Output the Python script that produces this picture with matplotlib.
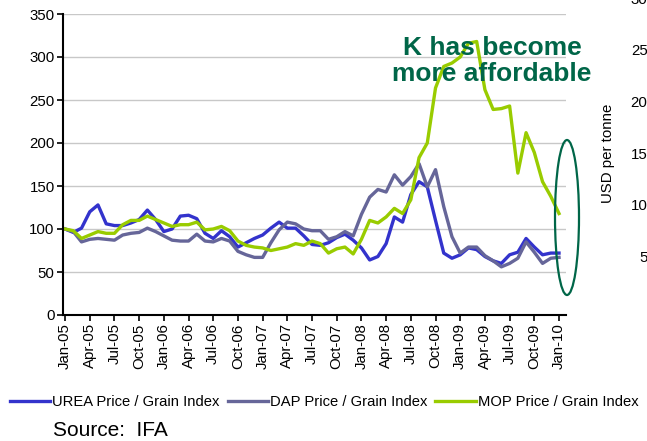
import matplotlib
matplotlib.use("Agg")
import matplotlib.pyplot as plt
from matplotlib.patches import Ellipse

plt.rcParams['font.family'] = ['Liberation Sans', 'DejaVu Sans']

# monthly index values, Jan-05 .. Jan-10
urea = [100, 96, 101, 120, 128, 106, 104, 104, 107, 111,
        122, 111, 97, 100, 115, 116, 112, 95, 89, 98,
        91, 79, 84, 89, 93, 101, 108, 101, 101, 92,
        82, 81, 84, 90, 94, 87, 78, 64, 68, 83,
        114, 108, 140, 155, 149, 110, 72, 66, 70, 78,
        76, 68, 63, 60, 70, 73, 89, 79, 70, 72, 72]
dap = [100, 97, 85, 88, 89, 88, 87, 93, 95, 96,
       101, 97, 92, 87, 86, 86, 94, 86, 85, 89,
       86, 74, 70, 67, 67, 84, 99, 108, 106, 100,
       98, 98, 88, 91, 97, 92, 117, 137, 146, 143,
       163, 151, 161, 176, 149, 169, 126, 91, 72, 79,
       79, 69, 63, 56, 60, 66, 85, 73, 60, 66, 67]
mop = [100, 98, 89, 93, 97, 95, 95, 105, 110, 110,
       115, 111, 107, 103, 105, 105, 108, 99, 100, 103,
       98, 86, 81, 79, 78, 75, 77, 79, 83, 81,
       86, 83, 72, 77, 79, 71, 88, 110, 107, 114,
       124, 118, 134, 183, 200, 264, 289, 293, 300, 316,
       318, 262, 239, 240, 243, 165, 212, 189, 155, 138, 118]

tick_labels = ['Jan-05', 'Apr-05', 'Jul-05', 'Oct-05', 'Jan-06', 'Apr-06', 'Jul-06',
               'Oct-06', 'Jan-07', 'Apr-07', 'Jul-07', 'Oct-07', 'Jan-08', 'Apr-08',
               'Jul-08', 'Oct-08', 'Jan-09', 'Apr-09', 'Jul-09', 'Oct-09', 'Jan-10']
right_ticks = [50, 100, 150, 200, 250, 300]

W, H = 647, 441
fig = plt.figure(figsize=(W / 100, H / 100), dpi=100)
ax = fig.add_axes([63 / W, 1 - 315 / H, (566 - 63) / W, (315 - 14) / H])

months = list(range(len(urea)))
ax.plot(months, urea, color='#3333CC', lw=2.4, label='UREA Price / Grain Index')
ax.plot(months, dap, color='#666699', lw=2.4, label='DAP Price / Grain Index')
ax.plot(months, mop, color='#99CC00', lw=2.4, label='MOP Price / Grain Index')

ax.set_xlim(-0.25, 60.85)
ax.set_ylim(0, 350)
ax.set_yticks(range(0, 351, 50))
ax.set_xticks(range(0, 61, 3))
ax.set_xticklabels(tick_labels, rotation=90)
ax.yaxis.grid(True, color='#C8C8C8', lw=1)
ax.set_axisbelow(True)
for s in ['top', 'right']:
    ax.spines[s].set_visible(False)
for s in ['left', 'bottom']:
    ax.spines[s].set_linewidth(1.5)
ax.tick_params(direction='out', length=4, width=1.2, labelsize=10.8, pad=2)

# annotation
fig.text(492 / W, 1 - 61 / H, 'K has become\nmore affordable', ha='center', va='center',
         fontsize=19, fontweight='bold', color='#006648', linespacing=1.1)
fig.add_artist(Ellipse((567 / W, 1 - 217.5 / H), 24 / W, 155 / H, transform=fig.transFigure,
                       fill=False, edgecolor='#006648', lw=1.6))

# right axis (cut off at the figure edge, as in the source)
for v in right_ticks:
    fig.text(656 / W, 1 - (310 - v * 1.035) / H, str(v), ha='right', va='center', fontsize=10.8)
fig.text(608 / W, 1 - 153 / H, 'USD per tonne', rotation=90, ha='center', va='center', fontsize=10.8)

fig.legend(loc='center left', bbox_to_anchor=(10 / W, 1 - 402 / H), ncol=3, frameon=False,
           fontsize=10.6, handlelength=2.75, handletextpad=0.12, columnspacing=0.55,
           borderaxespad=0, borderpad=0)
fig.text(53 / W, 1 - 430 / H, 'Source:  IFA', fontsize=15, va='center')

fig.savefig('out.png', dpi=100)
